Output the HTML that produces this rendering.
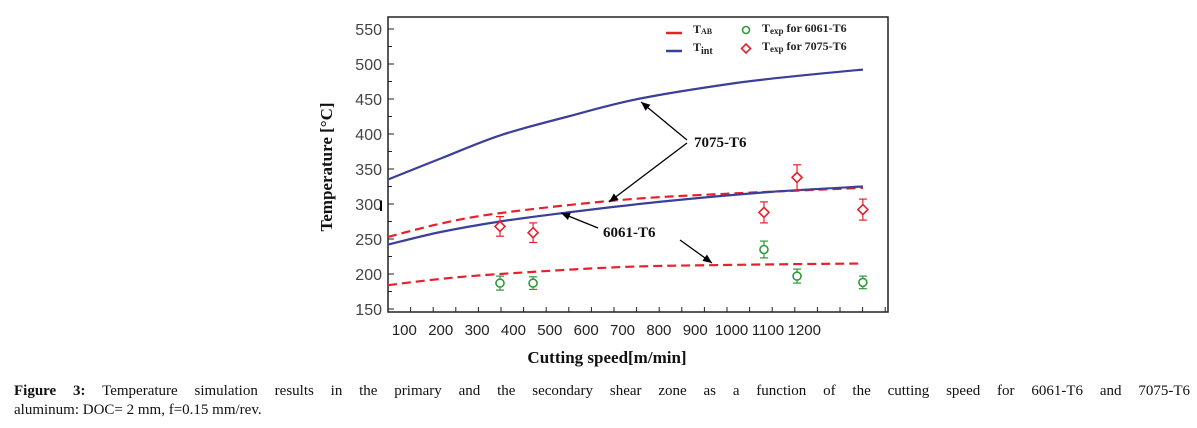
<!DOCTYPE html>
<html><head><meta charset="utf-8"><style>
body{margin:0;background:#fff;width:1197px;height:428px;overflow:hidden;font-family:"Liberation Serif",serif}
.cap{position:absolute;left:14px;width:1176px;font-size:15px;line-height:19px;color:#111;white-space:nowrap}
#cap1{top:382px;text-align:justify;text-align-last:justify}
#cap2{top:401px}
</style></head><body>
<svg id="chart" width="1197" height="380" style="position:absolute;left:0;top:0" font-family="Liberation Serif, serif">
<defs><marker id="ah" markerWidth="8" markerHeight="8" refX="7" refY="4" orient="auto"><path d="M0,1 L7,4 L0,7 z" fill="#000"/></marker></defs>
<g id="plot"></g>
</svg>
<div id="cap1" class="cap"><b>Figure 3:</b> Temperature simulation results in the primary and the secondary shear zone as a function of the cutting speed for 6061-T6 and 7075-T6</div>
<div id="cap2" class="cap">aluminum: DOC= 2 mm, f=0.15 mm/rev.</div>
<script>
const xTicks=[100,200,300,400,500,600,700,800,900,1000,1100,1200];
const yTicks=[150,200,250,300,350,400,450,500,550];
const tint7075X=[55,200,363,550,742,1000,1200,1361];
const tint7075Y=[335,365,398,425,450,472,484,492];
const tab7075X=[55,200,363,700,1000,1361];
const tab7075Y=[253,272,287,306,315,323];
const tint6061X=[55,200,363,550,800,1100,1361];
const tint6061Y=[242,260,275,288,303,317,325];
const tab6061X=[55,200,363,700,1000,1361];
const tab6061Y=[184,193,200,210,213,215];
const expX=[363,454,1089,1180,1361];
const exp6061=[187,187,235,197,188];
const err6061=[10,9,12,10,9];
const exp7075=[268,259,288,338,292];
const err7075=[14,14,15,18,15];

const X=v=>368+v*0.3636, Y=v=>274-(v-200)*0.7;
const NS="http://www.w3.org/2000/svg", g=document.getElementById('plot');
function el(t,a,txt){const e=document.createElementNS(NS,t);for(const k in a)e.setAttribute(k,a[k]);if(txt!==undefined)e.textContent=txt;g.appendChild(e);return e;}
function smooth(xs,ys){
  const P=xs.map((x,i)=>[X(x),Y(ys[i])]);
  let d='M'+P[0][0].toFixed(1)+','+P[0][1].toFixed(1);
  for(let i=0;i<P.length-1;i++){
    const p0=P[i-1]||P[i],p1=P[i],p2=P[i+1],p3=P[i+2]||P[i+1];
    const c1=[p1[0]+(p2[0]-p0[0])/6,p1[1]+(p2[1]-p0[1])/6];
    const c2=[p2[0]-(p3[0]-p1[0])/6,p2[1]-(p3[1]-p1[1])/6];
    d+=`C${c1[0].toFixed(1)},${c1[1].toFixed(1)} ${c2[0].toFixed(1)},${c2[1].toFixed(1)} ${p2[0].toFixed(1)},${p2[1].toFixed(1)}`;
  }
  return d;
}

let e=el('rect',{x:388,y:17,width:500,height:295,fill:'none',stroke:'#222','stroke-width':1.5});


yTicks.forEach(v=>{
  const t=el('text',{x:382,y:Y(v)+6,'text-anchor':'end','font-size':16,fill:'#444','font-family':'Liberation Sans, sans-serif'},v);
  
  
  el('line',{x1:388,x2:394,y1:Y(v),y2:Y(v),stroke:'#222'});
  if(v<550) el('line',{x1:388,x2:392,y1:Y(v+25),y2:Y(v+25),stroke:'#222'});
});
el('line',{x1:381,x2:381,y1:Y(305),y2:Y(290),stroke:'#000','stroke-width':2});
for(let p=388;p<888;p+=22.6){el('line',{x1:p,x2:p,y1:312,y2:307,stroke:'#222'});}
xTicks.forEach(v=>{
  const t=el('text',{x:X(v),y:335,'text-anchor':'middle','font-size':15,fill:'#222','font-family':'Liberation Sans, sans-serif'},v);
  
  
});
const xl=el('text',{x:607,y:363,'text-anchor':'middle','font-size':17,'font-weight':'bold',fill:'#111'},'Cutting  speed[m/min]');


const yl=el('text',{x:0,y:0,'text-anchor':'middle','font-size':17,'font-weight':'bold',fill:'#111',transform:'translate(332,167) rotate(-90)'},'Temperature [°C]');



const lines=[[tint7075X,tint7075Y,'#3a3f9a',null,'tint-7075-line'],[tab7075X,tab7075Y,'#e8202a','9,5','tab-7075-line'],[tint6061X,tint6061Y,'#3a3f9a',null,'tint-6061-line'],[tab6061X,tab6061Y,'#e8202a','9,5','tab-6061-line']];
lines.forEach(l=>{
  const p=el('path',{d:smooth(l[0],l[1]),fill:'none',stroke:l[2],'stroke-width':2.2});
  if(l[3])p.setAttribute('stroke-dasharray',l[3]);
  
  
});
expX.forEach((x,i)=>{
  const cx=X(x);
  [[exp6061[i],err6061[i],'#2e9a3a','c'],[exp7075[i],err7075[i],'#e8202a','d']].forEach(s=>{
    const cy=Y(s[0]),h=s[1]*0.7;
    el('line',{x1:cx,x2:cx,y1:cy-h,y2:cy+h,stroke:s[2],'stroke-width':1.2});
    el('line',{x1:cx-4,x2:cx+4,y1:cy-h,y2:cy-h,stroke:s[2],'stroke-width':1.2});
    el('line',{x1:cx-4,x2:cx+4,y1:cy+h,y2:cy+h,stroke:s[2],'stroke-width':1.2});
    let m;
    if(s[3]==='c') m=el('circle',{cx:cx,cy:cy,r:4,fill:'#fff',stroke:s[2],'stroke-width':1.6});
    else m=el('path',{d:`M${cx},${cy-5}L${cx+5},${cy}L${cx},${cy+5}L${cx-5},${cy}Z`,fill:'#fff',stroke:s[2],'stroke-width':1.6});
    
    
  });
});

const a1=el('text',{x:694,y:147,'font-size':15,'font-weight':'bold',fill:'#111'},'7075-T6');


const a2=el('text',{x:603,y:237,'font-size':15,'font-weight':'bold',fill:'#111'},'6061-T6');


[[687,140,641,102],[687,143,609,202],[598,228,561,213],[680,240,712,263]].forEach(a=>{
  el('line',{x1:a[0],y1:a[1],x2:a[2],y2:a[3],stroke:'#000','stroke-width':1.3,'marker-end':'url(#ah)'});
});

el('line',{x1:666,x2:682,y1:33,y2:33,stroke:'#e8202a','stroke-width':2.5});
el('line',{x1:666,x2:682,y1:51,y2:51,stroke:'#3a3f9a','stroke-width':2.5});
const l1=el('text',{x:693,y:33,'font-size':12,'font-weight':'bold',fill:'#222'});
l1.innerHTML='T<tspan font-size="8" dy="1">AB</tspan>';


const l2=el('text',{x:693,y:51,'font-size':12,'font-weight':'bold',fill:'#222'});
l2.innerHTML='T<tspan font-size="10" dy="3">int</tspan>';


el('circle',{cx:746,cy:30,r:3.5,fill:'#fff',stroke:'#2e9a3a','stroke-width':1.6});
el('path',{d:'M746,44L750.5,48.5L746,53L741.5,48.5Z',fill:'#fff',stroke:'#e8202a','stroke-width':1.6});
const l3=el('text',{x:762,y:32,'font-size':12,'font-weight':'bold',fill:'#222'});
l3.innerHTML='T<tspan font-size="9" dy="2">exp</tspan><tspan dy="-2"> for 6061-T6</tspan>';


const l4=el('text',{x:762,y:50,'font-size':12,'font-weight':'bold',fill:'#222'});
l4.innerHTML='T<tspan font-size="9" dy="2">exp</tspan><tspan dy="-2"> for 7075-T6</tspan>';


</script>
</body></html>
